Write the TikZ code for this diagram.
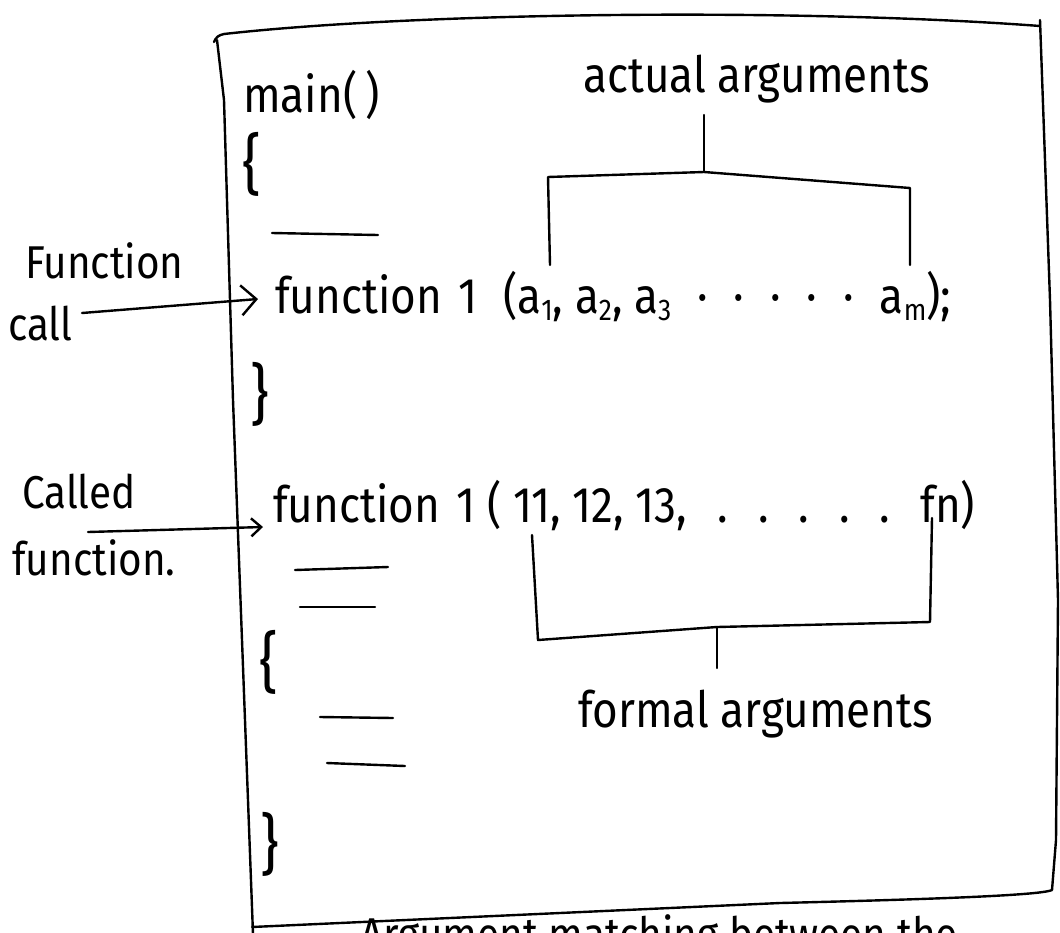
\documentclass[tikz,border=0pt]{standalone}
\usepackage{fontspec}
\setmainfont{Fira Sans}[FakeStretch=0.88]
\usetikzlibrary{arrows.meta,calc}
\newcommand{\mysub}[1]{\raisebox{-7pt}{\fontsize{30}{30}\selectfont #1}}
\begin{document}
\begin{tikzpicture}[x=1pt,y=-1pt,
  ink/.style={line width=2.4pt, line cap=round, line join=round},
  txt/.style={inner sep=0pt, anchor=base west, font=\fontsize{50}{54}\selectfont},
  lbl/.style={inner sep=0pt, anchor=base west, font=\fontsize{46}{50}\selectfont},
  bracech/.style={inner sep=0pt, anchor=north west, font=\fontsize{66}{66}\selectfont},
  arrbig/.style={ink, -{Straight Barb[length=15pt,width=30pt,line width=2.4pt]}},
  arrsmall/.style={ink, -{Straight Barb[length=10pt,width=18pt,line width=2.4pt]}}]
\useasboundingbox (0,0) rectangle (1060,932);

% outer box
\draw[ink] (214,42) .. controls (216,37) and (219,35) .. (224,34) .. controls (420,12) and (800,8) .. (1040,26);
\draw[ink] (1040,20) -- (1050,300) -- (1058,600) -- (1056,840) -- (1052,890)
  .. controls (1040,896) and (900,900) .. (780,903) -- (252,927);
\draw[ink] (217,40) -- (224,100) -- (233,400) -- (242,640) -- (253,934);

% main block
\node[txt] (main) at (243,112) {main(\,)};
\node[bracech] (ob1) at (242,132) {\{};
\draw[ink] (272,233) -- (378,235);
\node[txt] (fn1) at (275,313) {function\hspace{16pt}1};
\node[txt] (args1) at (503,313) {\makebox[448pt][l]{(a\mysub{1}, a\mysub{2}, a\mysub{3}\hfill·\hfill·\hfill·\hfill·\hfill·\hfill a\mysub{m});}};
\node[bracech] (cb1) at (250,362) {\}};

% actual arguments bracket
\node[txt] (actual) at (583,92) {actual arguments};
\coordinate (aL) at (548,177);
\coordinate (aC) at (704,172);
\coordinate (aR) at (910,188);
\draw[ink] (aC |- 0,115) -- (aC);
\draw[ink] (550,265) -- (aL) -- (aC) -- (aR) -- (910,265);

% called function
\node[txt] (fn2) at (273,522) {function\hspace{16pt}1};
\node[txt] (args2) at (487,522) {\makebox[488pt][l]{( 11, 12, 13,\hfill.\hfill.\hfill.\hfill.\hfill.\hfill fn)}};
\draw[ink] (295,570) -- (388,567);
\draw[ink] (300,607) -- (375,607);
\node[bracech] (ob2) at (259,630) {\{};
\draw[ink] (320,717) -- (393,718);
\draw[ink] (327,763) -- (405,766);
\node[bracech] (cb2) at (260,812) {\}};

% formal arguments bracket
\coordinate (fL) at (538,640);
\coordinate (fC) at (717,627);
\coordinate (fR) at (930,622);
\draw[ink] (532,535) -- (fL) -- (fC) -- (fR) -- (932,518);
\node[txt] (formal) at (578,727) {formal arguments};
\draw[ink] (fC) -- (717,668);

% left labels and arrows
\node[lbl] (lblF) at (25,278) {Function};
\node[lbl] (lblc) at (8,340) {call};
\coordinate (a1s) at (82,313);
\draw[arrbig] (a1s) -- ($(fn1.base west)+(-17,-14)$);
\node[lbl] (lblC) at (22,508) {Called};
\node[lbl] (lblf) at (12,575) {function.};
\coordinate (a2s) at (88,532);
\draw[arrsmall] (a2s) -- ($(fn2.base west)+(-10,5)$);

% cut-off text below the box
\begin{scope}
  \clip (0,0) rectangle (1060,932);
  \node[lbl] (below) at (360,950) {Argument matching between the};
\end{scope}
\end{tikzpicture}
\end{document}
